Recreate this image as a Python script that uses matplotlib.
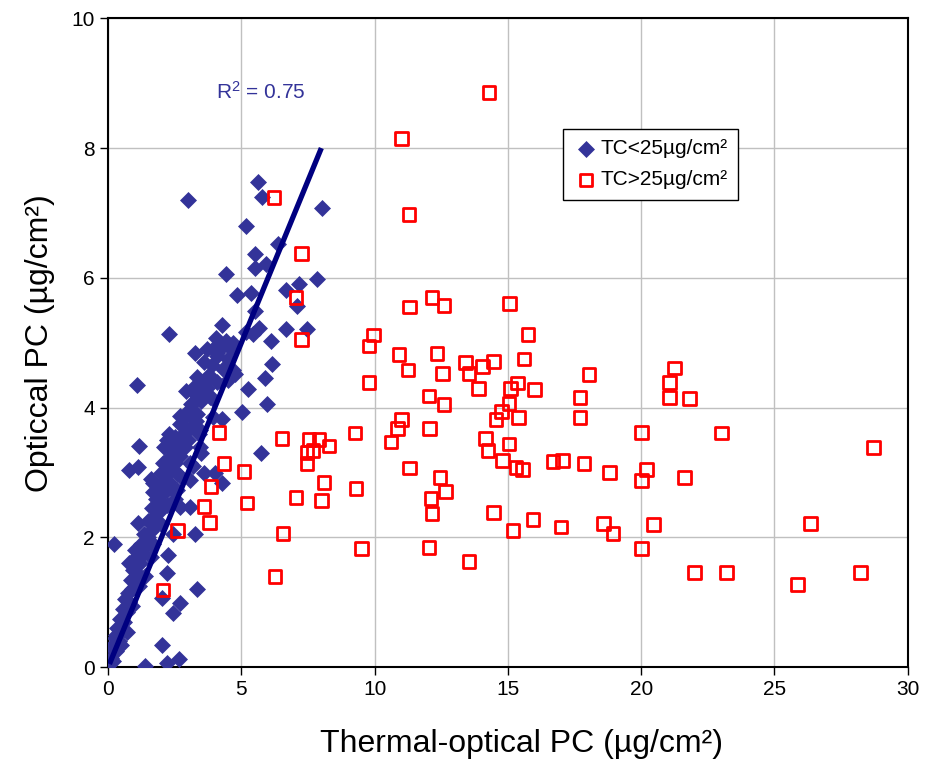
import numpy as np
import matplotlib.pyplot as plt

plt.rcParams['font.family'] = ['Liberation Sans', 'DejaVu Sans']
plt.rcParams['mathtext.default'] = 'regular'

# TC < 25 µg/cm² (x = thermal-optical PC, y = optical PC)
low_tc = np.array([
    # upper outliers
    (5.62, 7.47), (5.77, 7.24), (3.00, 7.20), (8.02, 7.07), (5.17, 6.80),
    (6.37, 6.52), (5.51, 6.36), (5.92, 6.21), (5.51, 6.15), (4.42, 6.06),
    (7.84, 5.98), (6.67, 5.82), (7.16, 5.90), (5.36, 5.76), (4.84, 5.73),
    (7.09, 5.56), (5.51, 5.49), (7.46, 5.21), (6.67, 5.21), (5.66, 5.22),
    (4.27, 5.28), (2.29, 5.13), (6.11, 5.02), (5.44, 5.13), (5.17, 5.16),
    (6.15, 4.68), (5.89, 4.45), (5.25, 4.28), (1.09, 4.35), (3.26, 4.84),
    (4.05, 5.07), (4.42, 5.02), (3.71, 4.90), (4.09, 4.84), (3.34, 4.47),
    (3.82, 4.45), (3.19, 4.30), (4.69, 4.99), (4.69, 4.58),
    (5.96, 4.05), (5.02, 3.93), (4.27, 3.82), (4.76, 4.52), (4.50, 4.42),
    (5.74, 3.30), (4.27, 2.84), (4.00, 3.00), (4.50, 4.62), (4.00, 4.93),
    # middle
    (2.92, 4.25), (2.70, 3.87), (3.19, 4.07), (3.45, 4.22), (3.82, 4.16),
    (3.34, 3.91), (3.94, 3.85), (2.21, 3.50), (1.16, 3.41), (0.79, 3.04),
    (1.12, 3.08), (2.06, 3.14), (2.32, 3.11), (1.69, 2.84), (2.21, 2.73),
    (2.59, 3.34), (2.81, 3.54), (2.70, 2.95), (3.07, 3.14), (3.07, 2.88),
    (3.45, 3.66), (3.45, 3.40), (2.59, 2.73),
    # lower outliers
    (0.22, 1.90), (3.34, 1.20), (2.70, 0.99), (2.44, 0.83), (2.02, 0.34),
    (1.39, 0.02), (2.21, 0.06), (2.66, 0.12), (2.25, 1.73), (2.21, 1.46),
    (3.26, 2.06), (2.02, 1.06), (1.12, 2.22), (2.44, 2.06), (2.70, 2.47),
    (3.07, 2.47),
    # dense band
    (0.05, 0.05), (0.10, 0.15), (0.20, 0.10), (0.15, 0.30), (0.30, 0.25),
    (0.25, 0.45), (0.40, 0.40), (0.35, 0.60), (0.50, 0.55), (0.45, 0.75),
    (0.60, 0.70), (0.55, 0.90), (0.70, 0.85), (0.65, 1.05), (0.80, 1.00),
    (0.30, 0.50), (0.20, 0.35), (0.50, 0.35), (0.70, 0.55),
    (0.75, 1.15), (0.90, 1.20), (0.85, 1.35), (1.00, 1.30), (0.95, 1.50),
    (1.10, 1.45), (1.20, 1.60), (1.05, 1.70), (1.30, 1.75), (1.25, 1.90),
    (1.40, 1.85), (1.50, 2.00), (1.35, 2.05), (0.90, 0.95), (1.15, 1.25),
    (1.40, 1.40), (1.60, 1.70), (1.70, 1.90), (1.00, 1.80), (0.80, 1.60),
    (1.60, 2.10), (1.50, 2.25), (1.70, 2.30), (1.85, 2.20), (1.65, 2.45),
    (1.90, 2.40), (2.00, 2.55), (1.80, 2.60), (2.10, 2.70), (2.20, 2.50),
    (1.95, 2.80), (2.30, 2.85), (2.15, 2.95), (2.40, 2.75), (1.70, 2.70),
    (2.50, 2.60), (2.60, 3.00), (1.60, 2.90), (2.00, 2.20),
    (2.30, 3.05), (2.50, 3.15), (2.20, 3.20), (2.70, 3.25), (2.40, 3.35),
    (2.60, 3.45), (2.90, 3.40), (2.50, 3.55), (2.80, 3.60), (3.00, 3.50),
    (2.70, 3.75), (3.10, 3.70), (2.90, 3.85), (3.30, 3.80), (3.00, 3.95),
    (3.40, 3.60), (2.10, 3.40), (2.30, 3.60), (3.50, 3.30), (3.20, 3.10),
    (3.60, 3.00), (2.00, 3.00),
    (3.10, 4.05), (3.50, 4.10), (3.30, 4.20), (3.70, 4.30), (3.90, 4.15),
    (3.50, 4.40), (3.80, 4.50), (4.10, 4.40), (3.90, 4.65), (4.30, 4.60),
    (4.10, 4.80), (4.50, 4.75), (4.30, 4.95), (4.60, 4.90), (3.60, 4.70),
])

# TC > 25 µg/cm²
high_tc = np.array([
    (14.29, 8.86), (11.02, 8.15), (11.29, 6.98), (6.22, 7.24), (7.27, 6.38),
    (7.05, 5.70), (7.27, 5.05), (12.15, 5.70), (12.60, 5.58), (11.32, 5.55),
    (15.07, 5.61), (15.75, 5.13), (9.97, 5.12), (9.79, 4.95), (10.91, 4.82),
    (12.34, 4.84), (13.42, 4.70), (14.06, 4.64), (14.47, 4.71), (15.60, 4.75),
    (11.25, 4.58), (12.56, 4.53), (13.54, 4.53), (18.04, 4.51), (9.79, 4.39),
    (13.91, 4.30), (15.11, 4.30), (15.37, 4.38), (16.01, 4.28), (12.04, 4.18),
    (12.60, 4.05), (17.70, 4.16), (15.04, 4.07), (14.77, 3.94), (14.55, 3.82),
    (15.41, 3.85), (17.70, 3.85), (11.02, 3.82), (10.87, 3.68), (10.61, 3.47),
    (12.07, 3.68), (9.26, 3.61), (20.02, 3.62), (14.17, 3.53), (14.25, 3.34),
    (15.04, 3.44), (14.81, 3.19), (15.30, 3.08), (15.56, 3.05), (16.69, 3.17),
    (17.06, 3.19), (17.85, 3.14), (18.82, 3.00), (11.32, 3.07), (12.45, 2.93),
    (12.67, 2.71), (12.11, 2.60), (12.15, 2.37), (9.30, 2.76), (14.47, 2.39),
    (15.94, 2.28), (15.19, 2.11), (16.99, 2.16), (18.60, 2.22), (18.94, 2.06),
    (20.47, 2.20), (20.02, 2.88), (20.21, 3.05), (20.02, 1.83), (9.52, 1.83),
    (12.04, 1.85), (13.54, 1.63), (21.26, 4.61), (21.07, 4.39), (21.07, 4.16),
    (21.82, 4.14), (23.02, 3.61), (28.72, 3.39), (21.63, 2.93), (26.36, 2.22),
    (22.01, 1.46), (23.21, 1.46), (25.87, 1.28), (28.23, 1.46),
    (4.16, 3.62), (6.52, 3.53), (7.54, 3.51), (7.91, 3.51), (7.69, 3.34),
    (7.46, 3.14), (7.46, 3.31), (8.29, 3.41), (4.35, 3.14), (5.10, 3.02),
    (3.86, 2.79), (3.60, 2.48), (5.21, 2.53), (7.05, 2.62), (8.10, 2.85),
    (8.02, 2.57), (3.79, 2.23), (6.56, 2.06), (2.59, 2.11), (6.26, 1.40),
    (2.06, 1.19),
])

# linear fit of the TC<25 series, as printed on the chart
fit_slope = 1.0
fit_intercept = 0.0
fit_x = np.array([0.05, 8.0])
r2_label = 'R$^2$ = 0.75'

x_ticks = [0, 5, 10, 15, 20, 25, 30]
y_ticks = [0, 2, 4, 6, 8, 10]

fig = plt.figure(figsize=(9.32, 7.6), dpi=100)
ax = fig.add_axes([0.116, 0.122, 0.858, 0.854])

ax.scatter(low_tc[:, 0], low_tc[:, 1], marker='D', s=75, color='#333399',
           linewidths=0, label='TC<25µg/cm²', zorder=3)
ax.scatter(high_tc[:, 0], high_tc[:, 1], marker='s', s=85, facecolors='none',
           edgecolors='#ff0000', linewidths=2, label='TC>25µg/cm²', zorder=4)
ax.plot(fit_x, fit_slope * fit_x + fit_intercept, color='#000080', lw=3.8,
        zorder=5, solid_capstyle='butt')

ax.text(4.05, 8.86, r2_label, color='#333399', fontsize=15, va='center')

ax.set_xlim(0, 30)
ax.set_ylim(0, 10)
ax.set_xticks(x_ticks)
ax.set_yticks(y_ticks)
ax.tick_params(direction='out', length=6, width=1, labelsize=15)
ax.grid(True, color='#c0c0c0', lw=1)
ax.set_axisbelow(True)
for s in ax.spines.values():
    s.set_color('black')
    s.set_linewidth(1.5)

ax.set_xlabel('Thermal-optical PC (µg/cm²)', fontsize=23)
ax.xaxis.set_label_coords(0.5175, -0.095)
ax.set_ylabel('Opticcal PC (µg/cm²)', fontsize=23, labelpad=12)

leg = ax.legend(loc='upper left', bbox_to_anchor=(0.569, 0.83), fontsize=15,
                scatterpoints=1, fancybox=False, edgecolor='black',
                framealpha=1, borderpad=0.5, handletextpad=0.1,
                labelspacing=0.6, handlelength=1.2, borderaxespad=0)
leg.get_frame().set_linewidth(1)

fig.savefig('out.png', dpi=100)
